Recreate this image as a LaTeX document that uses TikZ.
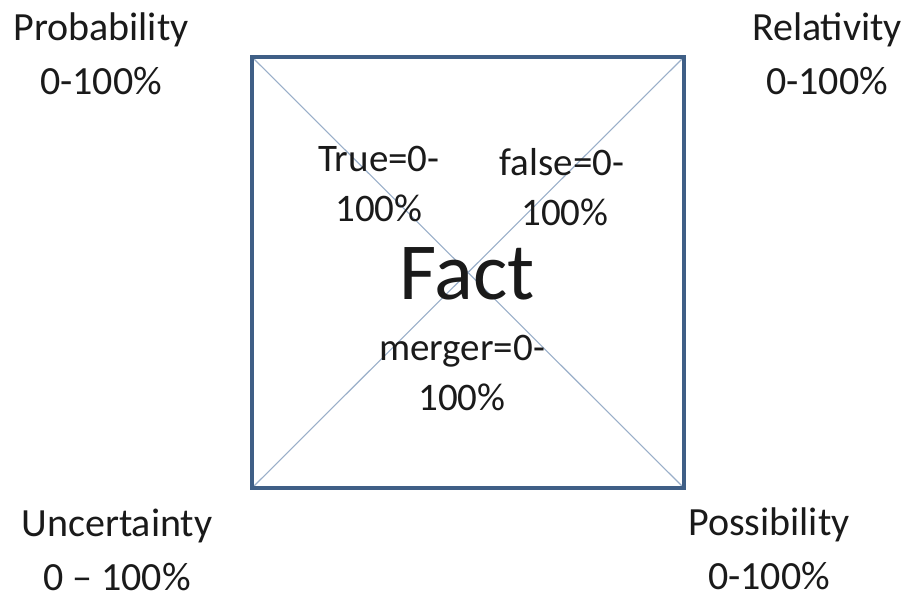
\documentclass[tikz,border=0pt]{standalone}
\usepackage{fontspec}
\setmainfont{Carlito}
\definecolor{boxblue}{HTML}{3F5F86}
\definecolor{diagblue}{HTML}{9AAFC9}
\definecolor{ink}{HTML}{1A1A1A}
\begin{document}
\begin{tikzpicture}[x=1pt,y=-1pt,
  lbl/.style={anchor=base,inner sep=0pt,text=ink,font=\fontsize{40}{54}\selectfont,align=center},
  inlbl/.style={lbl,font=\fontsize{39}{50}\selectfont},
  big/.style={anchor=base,inner sep=0pt,text=ink,font=\fontsize{81}{90}\selectfont}]
\useasboundingbox[fill=white] (0,0) rectangle (910,593);
\coordinate (tl) at (252,57);
\coordinate (tr) at (684,57);
\coordinate (br) at (684,488);
\coordinate (bl) at (252,488);
\draw[diagblue,line width=1.1pt] (tl) -- (br);
\draw[diagblue,line width=1.1pt] (tr) -- (bl);
\draw[boxblue,line width=4.5pt] (tl) -- (tr) -- (br) -- (bl) -- cycle;
\node[lbl] (prob) at (101,95) {Probability\\0-100\%};
\node[lbl] (rel) at (827,95) {Relativity\\0-100\%};
\node[lbl] (unc) at (117,590) {Uncertainty\\0 -- 100\%};
\node[lbl] (pos) at (769,589) {Possibility\\0-100\%};
\node[inlbl] (true) at (379,222) {True=0-\\100\%};
\node[inlbl] (false) at (562,226) {false=0-\\\hspace*{6pt}100\%};
\node[inlbl] (merger) at (462,410) {merger=0-\\100\%};
\node[big] (fact) at (467,300) {Fact};
\end{tikzpicture}
\end{document}
